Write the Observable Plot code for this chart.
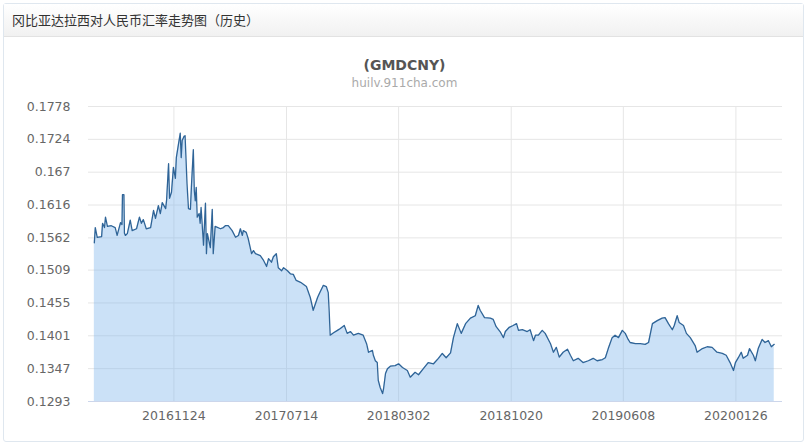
<!DOCTYPE html>
<html>
<head>
<meta charset="utf-8">
<script src="https://cdn.jsdelivr.net/npm/d3@7"></script>
<script src="https://cdn.jsdelivr.net/npm/@observablehq/plot@0.6"></script>
<style>
  html, body { margin: 0; padding: 0; background: #fff; }
  body { width: 809px; height: 447px; position: relative; overflow: hidden; font-family: "DejaVu Sans", sans-serif; }
  #panel { position: absolute; left: 3px; top: 3px; width: 801px; height: 439px; border: 1px solid #dfe7ef; border-radius: 3px; box-sizing: border-box; }
  #head { position: absolute; left: 4px; top: 4px; width: 799px; height: 32px; background: linear-gradient(#ffffff, #f1f1f1); border-bottom: 1px solid #e2e2e2; }
  #head span { position: absolute; left: 8px; top: 8px; font-family: "Noto Sans CJK SC", sans-serif; font-size: 13px; color: #333; line-height: 16px; }
  #title { position: absolute; left: 0; width: 809px; top: 57px; text-align: center; font-weight: bold; font-size: 14px; color: #555; }
  #subtitle { position: absolute; left: 0; width: 809px; top: 76px; text-align: center; font-size: 12px; color: #aaa; }
  #chart { position: absolute; left: 0; top: 40px; }
</style>
</head>
<body>
<div id="panel"></div>
<div id="head"><span>冈比亚达拉西对人民币汇率走势图（历史）</span></div>
<div id="title">(GMDCNY)</div>
<div id="subtitle">huilv.911cha.com</div>
<div id="chart"></div>
<script>
const dates = [
"2016-06-13","2016-06-15","2016-06-19","2016-06-28","2016-06-30","2016-07-04","2016-07-06","2016-07-10","2016-07-18","2016-07-26",
"2016-07-30","2016-08-06","2016-08-09","2016-08-10","2016-08-13","2016-08-14","2016-08-16","2016-08-20","2016-08-26","2016-08-30","2016-09-08","2016-09-14",
"2016-09-18","2016-09-22","2016-09-28","2016-10-07","2016-10-13","2016-10-17","2016-10-23","2016-10-27","2016-10-31","2016-11-07",
"2016-11-09","2016-11-13","2016-11-15","2016-11-19","2016-11-23","2016-11-27","2016-11-29","2016-12-03","2016-12-07","2016-12-09",
"2016-12-11","2016-12-15","2016-12-17","2016-12-21","2016-12-24","2016-12-28","2016-12-30","2017-01-03","2017-01-05","2017-01-07",
"2017-01-09","2017-01-11","2017-01-15","2017-01-17","2017-01-19","2017-01-24","2017-01-28","2017-01-30","2017-02-01","2017-02-07",
"2017-02-11","2017-02-13","2017-02-17","2017-02-28","2017-03-06","2017-03-10","2017-03-16","2017-03-24","2017-03-31","2017-04-06",
"2017-04-10","2017-04-14","2017-04-16","2017-04-22","2017-04-26","2017-05-03","2017-05-07","2017-05-11","2017-05-21","2017-05-27",
"2017-06-03","2017-06-07","2017-06-13","2017-06-17","2017-06-23","2017-06-27","2017-07-04","2017-07-08","2017-07-16","2017-07-22",
"2017-07-28","2017-08-03","2017-08-12","2017-08-24","2017-09-01","2017-09-07","2017-09-16","2017-09-20","2017-09-28","2017-10-04",
"2017-10-08","2017-10-10","2017-10-12","2017-10-19","2017-10-27","2017-11-02","2017-11-10","2017-11-16","2017-11-23","2017-11-29",
"2017-12-09","2017-12-19","2017-12-26","2017-12-30","2018-01-07","2018-01-09","2018-01-13","2018-01-17","2018-01-19","2018-01-23",
"2018-01-28","2018-01-30","2018-02-03","2018-02-07","2018-02-13","2018-02-23","2018-03-02","2018-03-10","2018-03-20","2018-03-26",
"2018-04-05","2018-04-12","2018-04-22","2018-05-02","2018-05-13","2018-05-23","2018-05-31","2018-06-08","2018-06-17","2018-06-23",
"2018-07-01","2018-07-09","2018-07-18","2018-07-28","2018-08-07","2018-08-13","2018-08-17","2018-08-26","2018-09-07","2018-09-13",
"2018-09-19","2018-09-27","2018-10-04","2018-10-08","2018-10-16","2018-10-24","2018-10-31","2018-11-04","2018-11-12","2018-11-22",
"2018-11-28","2018-12-05","2018-12-09","2018-12-15","2018-12-23","2018-12-29","2019-01-09","2019-01-15","2019-01-21","2019-01-27",
"2019-02-04","2019-02-13","2019-02-19","2019-02-25","2019-03-07","2019-03-17","2019-03-28","2019-04-07","2019-04-15","2019-04-26",
"2019-05-02","2019-05-08","2019-05-16","2019-05-22","2019-05-29","2019-06-06","2019-06-12","2019-06-18","2019-06-22","2019-07-03",
"2019-07-13","2019-07-23","2019-07-30","2019-08-07","2019-08-17","2019-08-27","2019-09-02","2019-09-09","2019-09-17","2019-09-21",
"2019-09-27","2019-10-01","2019-10-10","2019-10-16","2019-10-24","2019-11-03","2019-11-07","2019-11-18","2019-11-28","2019-12-08",
"2019-12-18","2019-12-29","2020-01-06","2020-01-14","2020-01-21","2020-01-25","2020-01-31","2020-02-06","2020-02-10","2020-02-19",
"2020-02-23","2020-03-02","2020-03-06","2020-03-12","2020-03-20","2020-03-26","2020-04-02","2020-04-08","2020-04-14"
];
const rates = [
0.1554,0.1579,0.1563,0.1564,0.1586,0.1579,0.1596,0.1581,0.1582,0.1579,
0.1566,0.1587,0.1584,0.1633,0.1633,0.1570,0.1566,0.1569,0.1591,0.1574,0.1577,0.1596,
0.1586,0.1592,0.1577,0.1579,0.1607,0.1594,0.1615,0.1602,0.1620,0.1610,
0.1625,0.1684,0.1627,0.1637,0.1678,0.1660,0.1694,0.1714,0.1734,0.1694,
0.1722,0.1729,0.1730,0.1651,0.1610,0.1609,0.1645,0.1707,0.1640,0.1623,
0.1645,0.1596,0.1602,0.1586,0.1612,0.1550,0.1619,0.1536,0.1569,0.1546,
0.1609,0.1536,0.1581,0.1577,0.1579,0.1582,0.1582,0.1574,0.1563,0.1566,
0.1577,0.1566,0.1574,0.1571,0.1561,0.1536,0.1541,0.1536,0.1533,0.1526,
0.1515,0.1528,0.1522,0.1531,0.1536,0.1513,0.1508,0.1513,0.1508,0.1503,
0.1502,0.1492,0.1489,0.1482,0.1464,0.1443,0.1464,0.1471,0.1484,0.1482,
0.1472,0.1440,0.1402,0.1406,0.1410,0.1413,0.1418,0.1405,0.1408,0.1402,
0.1405,0.1402,0.1388,0.1374,0.1377,0.1369,0.1360,0.1357,0.1328,0.1316,
0.1306,0.1314,0.1339,0.1347,0.1351,0.1352,0.1355,0.1349,0.1344,0.1333,
0.1341,0.1337,0.1347,0.1357,0.1355,0.1364,0.1372,0.1365,0.1373,0.1398,
0.1421,0.1405,0.1421,0.1430,0.1434,0.1451,0.1443,0.1431,0.1430,0.1428,
0.1416,0.1408,0.1398,0.1408,0.1415,0.1418,0.1421,0.1410,0.1411,0.1408,
0.1411,0.1393,0.1402,0.1402,0.1410,0.1405,0.1388,0.1374,0.1382,0.1366,
0.1374,0.1379,0.1369,0.1360,0.1364,0.1357,0.1360,0.1364,0.1360,0.1362,
0.1365,0.1380,0.1398,0.1402,0.1398,0.1410,0.1405,0.1395,0.1390,0.1388,
0.1388,0.1387,0.1390,0.1421,0.1426,0.1430,0.1431,0.1421,0.1411,0.1418,
0.1434,0.1423,0.1418,0.1405,0.1398,0.1385,0.1374,0.1380,0.1383,0.1382,
0.1374,0.1372,0.1369,0.1357,0.1344,0.1357,0.1365,0.1374,0.1364,0.1369,
0.1380,0.1369,0.1360,0.1380,0.1395,0.1390,0.1393,0.1383,0.1387
];
const yTicks = [0.1293, 0.1347, 0.1401, 0.1455, 0.1509, 0.1562, 0.1616, 0.167, 0.1724, 0.1778];
const xTickLabels = ["20161124", "20170714", "20180302", "20181020", "20190608", "20200126"];
const xDomain = ["2016-06-01", "2020-05-01"];

const parse = d3.utcParse("%Y-%m-%d");
const parseTick = d3.utcParse("%Y%m%d");
const data = dates.map((d, i) => ({date: parse(d), value: rates[i]}));
const xTicks = xTickLabels.map(parseTick);
const yMin = yTicks[0];

const chart = Plot.plot({
  width: 809,
  height: 400,
  marginLeft: 88,
  marginRight: 27,
  marginTop: 66,
  marginBottom: 39,
  style: {fontFamily: "DejaVu Sans, sans-serif", fontSize: "12px", color: "#666", background: "transparent"},
  x: {type: "utc", domain: xDomain.map(parse)},
  y: {domain: [yTicks[0], yTicks[yTicks.length - 1]]},
  marks: [
    Plot.gridY(yTicks, {stroke: "#e6e6e6", strokeOpacity: 1}),
    Plot.gridX(xTicks, {stroke: "#e6e6e6", strokeOpacity: 1}),
    Plot.areaY(data, {x: "date", y1: yMin, y2: "value", fill: "#7cb5ec", fillOpacity: 0.4}),
    Plot.lineY(data, {x: "date", y: "value", stroke: "#2f6497", strokeWidth: 1.3}),
    Plot.ruleY([yMin], {stroke: "#ccd6eb"}),
    Plot.axisY(yTicks, {tickSize: 0, tickPadding: 18, tickFormat: d => String(d), fontSize: 12.5, label: null}),
    Plot.axisX(xTicks, {tickSize: 0, tickPadding: 10, tickFormat: d3.utcFormat("%Y%m%d"), fontSize: 12.5, label: null})
  ]
});
document.getElementById("chart").appendChild(chart);
</script>
</body>
</html>
